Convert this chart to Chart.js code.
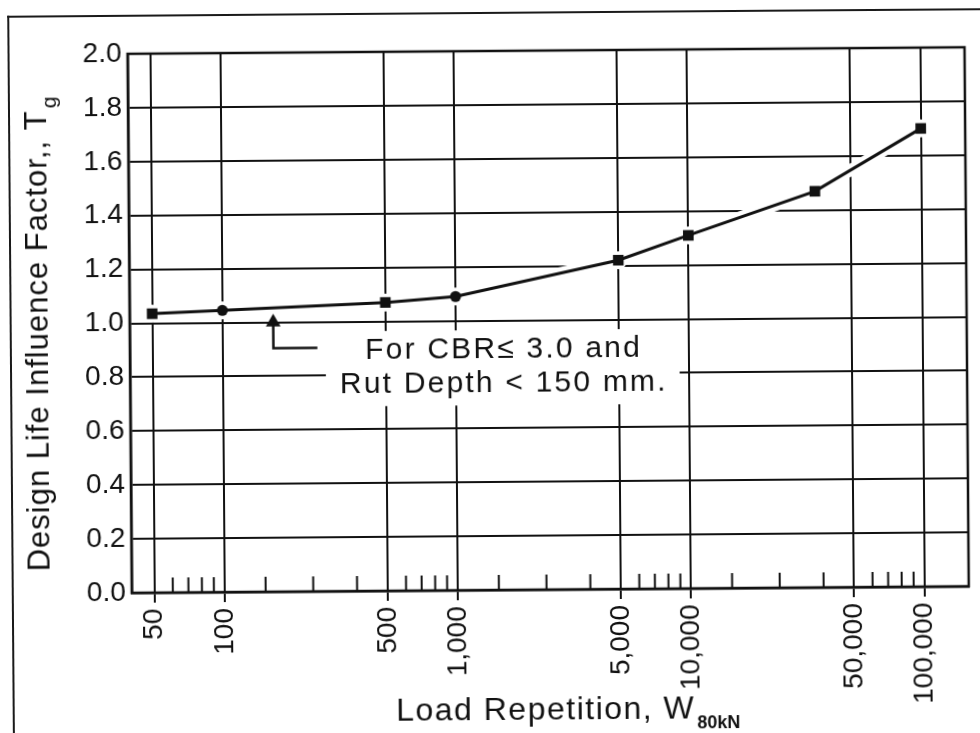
<!DOCTYPE html>
<html>
<head>
<meta charset="utf-8">
<script src="https://cdn.jsdelivr.net/npm/chart.js@4/dist/chart.umd.min.js"></script>
<style>
	html, body { margin: 0; padding: 0; background: #fff; }
	body { width: 980px; height: 733px; overflow: hidden; }
	#sheet { position: relative; width: 980px; height: 733px; transform: rotate(-0.45deg); transform-origin: 490px 366px; }
	#frame { position: absolute; left: 10px; top: 12px; width: 1100px; height: 900px; border-left: 2px solid #1a1a1a; border-top: 2px solid #1a1a1a; }
	#chart-box { position: absolute; left: 0; top: 0; width: 980px; height: 733px; }
</style>
</head>
<body>
<div id="sheet">
	<div id="frame"></div>
	<div id="chart-box"><canvas id="design-life"></canvas></div>
</div>
<script>
/* globals Chart */

// curve: load repetitions (W80kN) against design life influence factor Tg
const loadRepetitions	= [50, 100, 500, 1000, 5000, 10000, 35000, 100000];
const lifeFactors		= [1.035, 1.045, 1.07, 1.09, 1.22, 1.31, 1.47, 1.70];
const pointStyles		= ['rect', 'circle', 'rect', 'circle', 'rect', 'rect', 'rect', 'rect'];

// the single CBR marker sitting on the 1.0 line
const markerRepetitions	= [165];
const markerFactors		= [1.0];

// axes
const majorTicks	= [50, 100, 500, 1000, 5000, 10000, 50000, 100000];
const minorTicks	= [60, 70, 80, 90, 150, 240, 370, 600, 700, 800, 900,
					   1500, 2400, 3700, 6000, 7000, 8000, 9000,
					   15000, 24000, 37000, 60000, 70000, 80000, 90000];
const factorTicks	= [0.0, 0.2, 0.4, 0.6, 0.8, 1.0, 1.2, 1.4, 1.6, 1.8, 2.0];

// note next to the marker
const noteLines			= ['For CBR\u2264 3.0 and', 'Rut Depth < 150 mm.'];
const noteRepetition	= 1600;
const noteFactors		= [0.89, 0.767];

const INK	= '#111';
const FONT	= '"Liberation Sans", Arial, Helvetica, sans-serif';

// draws text followed by a lowered subscript, centred on the origin
function drawSubscripted(ctx, main, sub, mainFont, subFont, spacing, drop) {
	ctx.font = mainFont;
	ctx.letterSpacing = spacing;
	let wMain = ctx.measureText(main).width;
	ctx.font = subFont;
	ctx.letterSpacing = '0px';
	let wSub = ctx.measureText(sub).width;
	let start = -(wMain + wSub) / 2;

	ctx.textAlign = 'left';
	ctx.textBaseline = 'alphabetic';
	ctx.font = mainFont;
	ctx.letterSpacing = spacing;
	ctx.fillText(main, start, 0);
	ctx.font = subFont;
	ctx.letterSpacing = '0px';
	ctx.fillText(sub, start + wMain + 2, drop);
}

// box round the plot and short minor ticks on the bottom axis
const framePlugin = {
	id: 'plotFrame',
	beforeDatasetsDraw(chart) {
		let ctx = chart.ctx;
		let area = chart.chartArea;
		let xScale = chart.scales.x;

		ctx.save();
		ctx.strokeStyle = INK;
		ctx.lineWidth = 2;
		ctx.beginPath();
		for (let i = 0; i < minorTicks.length; i++) {
			let px = xScale.getPixelForValue(minorTicks[i]);
			ctx.moveTo(px, area.bottom);
			ctx.lineTo(px, area.bottom - 15);
		}
		ctx.stroke();

		ctx.lineWidth = 2.5;
		ctx.strokeRect(area.left, area.top, area.right - area.left, area.bottom - area.top);
		ctx.restore();
	}
};

// note text on a white patch, with the leader from the marker
const notePlugin = {
	id: 'cbrNote',
	beforeDatasetsDraw(chart) {
		let ctx = chart.ctx;
		let xScale = chart.scales.x;
		let yScale = chart.scales.y;

		ctx.save();
		ctx.font = '30px ' + FONT;
		ctx.letterSpacing = '2.2px';
		let cx = xScale.getPixelForValue(noteRepetition);
		let maxW = 0;
		for (let i = 0; i < noteLines.length; i++) {
			maxW = Math.max(maxW, ctx.measureText(noteLines[i]).width);
		}
		let top = yScale.getPixelForValue(noteFactors[0]) - 20;
		let bottom = yScale.getPixelForValue(noteFactors[noteLines.length - 1]) + 22;

		ctx.fillStyle = '#fff';
		ctx.fillRect(cx - maxW / 2 - 14, top, maxW + 26, bottom - top);

		ctx.fillStyle = INK;
		ctx.textAlign = 'center';
		ctx.textBaseline = 'middle';
		for (let i = 0; i < noteLines.length; i++) {
			ctx.fillText(noteLines[i], cx, yScale.getPixelForValue(noteFactors[i]));
		}

		// leader: down from the triangle, then across towards the note
		let mx = xScale.getPixelForValue(markerRepetitions[0]);
		let my = yScale.getPixelForValue(markerFactors[0]);
		ctx.strokeStyle = INK;
		ctx.lineWidth = 2.5;
		ctx.beginPath();
		ctx.moveTo(mx, my + 3);
		ctx.lineTo(mx, my + 26);
		ctx.lineTo(mx + 44, my + 26);
		ctx.stroke();
		ctx.restore();
	}
};

// axis titles, both carry a subscript
const titlePlugin = {
	id: 'axisTitles',
	afterDraw(chart) {
		let ctx = chart.ctx;
		let area = chart.chartArea;

		ctx.save();
		ctx.fillStyle = INK;

		ctx.translate(area.left + (area.right - area.left) / 2 + 16, 720);
		drawSubscripted(ctx, 'Load Repetition, W', '80kN', '32px ' + FONT, 'bold 18px ' + FONT, '1.5px', 10);
		ctx.restore();

		ctx.save();
		ctx.fillStyle = INK;
		ctx.translate(48, area.top + (area.bottom - area.top) / 2 + 11);
		ctx.rotate(-Math.PI / 2);
		drawSubscripted(ctx, 'Design Life Influence Factor,, T', 'g', '31px ' + FONT, '21px ' + FONT, '1px', 10);
		ctx.restore();
	}
};

function toPoints(xs, ys) {
	let pts = [];
	for (let i = 0; i < xs.length; i++) {
		pts.push({ x: xs[i], y: ys[i] });
	}
	return pts;
}

const curve = toPoints(loadRepetitions, lifeFactors);

new Chart(document.getElementById('design-life'), {
	type: 'line',
	data: {
		datasets: [
			{
				label: 'Tg',
				data: curve,
				borderColor: INK,
				borderWidth: 3,
				backgroundColor: INK,
				pointStyle: pointStyles,
				pointRadius: [7.5, 5.5, 7.5, 5.5, 7.5, 7.5, 7.5, 7.5],
				pointBorderWidth: 0,
				pointBackgroundColor: INK,
				tension: 0,
				order: 1
			},
			{
				// white knock-out so the grid breaks round the curve
				label: 'knockout',
				data: curve,
				borderColor: '#fff',
				borderWidth: 12,
				pointRadius: 9,
				pointStyle: 'circle',
				pointBackgroundColor: '#fff',
				pointBorderWidth: 0,
				tension: 0,
				order: 3
			},
			{
				label: 'CBR',
				data: toPoints(markerRepetitions, markerFactors),
				showLine: false,
				pointStyle: 'triangle',
				pointRadius: 8.5,
				pointBorderWidth: 0,
				pointBackgroundColor: INK,
				order: 0
			}
		]
	},
	options: {
		responsive: true,
		maintainAspectRatio: false,
		animation: false,
		events: [],
		layout: { padding: { left: 0, right: 13, top: 51, bottom: 0 } },
		plugins: {
			legend: { display: false },
			tooltip: { enabled: false }
		},
		scales: {
			x: {
				type: 'logarithmic',
				min: 40,
				max: 155000,
				afterBuildTicks: (scale) => {
					scale.ticks = majorTicks.map(v => ({ value: v }));
				},
				afterFit: (scale) => { scale.height = 143; },
				ticks: {
					autoSkip: false,
					minRotation: 90,
					maxRotation: 90,
					padding: 6,
					color: INK,
					font: { family: FONT, size: 28 },
					callback: (value) => Number(value).toLocaleString('en-US')
				},
				grid: {
					color: INK,
					lineWidth: 2,
					tickLength: 10,
					tickColor: INK
				},
				border: { display: true, color: INK, width: 2.5 }
			},
			y: {
				type: 'linear',
				min: 0,
				max: 2,
				afterBuildTicks: (scale) => {
					scale.ticks = factorTicks.map(v => ({ value: v }));
				},
				afterFit: (scale) => { scale.width = 130; },
				ticks: {
					padding: 6,
					color: INK,
					font: { family: FONT, size: 28 },
					callback: (value) => Number(value).toFixed(1)
				},
				grid: {
					color: INK,
					lineWidth: 2,
					drawTicks: false
				},
				border: { display: true, color: INK, width: 2.5 }
			}
		}
	},
	plugins: [framePlugin, notePlugin, titlePlugin]
});
</script>
</body>
</html>
